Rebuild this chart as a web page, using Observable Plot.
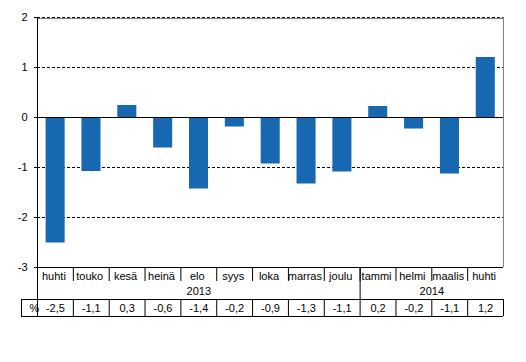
<!DOCTYPE html>
<html>
<head>
<meta charset="utf-8">
<script src="https://cdn.jsdelivr.net/npm/d3@7"></script>
<script src="https://cdn.jsdelivr.net/npm/@observablehq/plot@0.6"></script>
<style>
  html, body { margin: 0; padding: 0; background: #fff; }
  #chart svg { display: block; }
</style>
</head>
<body>
<div id="chart"></div>
<script>
const months = ["huhti","touko","kesä","heinä","elo","syys","loka","marras","joulu","tammi","helmi","maalis","huhti"];
const values = [-2.51,-1.08,0.24,-0.61,-1.43,-0.19,-0.93,-1.33,-1.09,0.22,-0.23,-1.13,1.2];
const valueLabels = ["-2,5","-1,1","0,3","-0,6","-1,4","-0,2","-0,9","-1,3","-1,1","0,2","-0,2","-1,1","1,2"];
const years = ["2013","2014"];
const yearFirst = [0, 9];
const yearLast = [8, 12];
const yTicks = [-3,-2,-1,0,1,2];
const gridTicks = [-2,-1,1,2];
const unitLabel = "%";

const W = 526, H = 362;
const mL = 37, mR = 23, mT = 17, mB = 95;
const bw = (W - mL - mR) / months.length;

const idx = months.map((m, i) => i);
const data = idx.map(i => ({i, month: months[i], value: values[i], label: valueLabels[i]}));
const yMin = d3.min(yTicks), yMax = d3.max(yTicks);
const innerEdges = idx.slice(1);
const allEdges = idx;
const frameH = H - mT - mB;

const chart = Plot.plot({
  width: W,
  height: H,
  marginLeft: mL,
  marginRight: mR,
  marginTop: mT,
  marginBottom: mB,
  style: {fontFamily: "'Liberation Sans', Arial, sans-serif", fontSize: "11px", color: "#000", background: "#fff"},
  x: {type: "band", domain: idx, padding: 0, round: false, axis: null},
  y: {domain: [yMin, yMax], axis: null},
  marks: [
    // dashed gridlines
    Plot.ruleY(gridTicks, {stroke: "#000", strokeDasharray: "3,2", strokeWidth: 1}),
    // gray plot border top & right
    Plot.ruleY([yMax], {stroke: "#808080", dy: 1}),
    Plot.ruleX([idx[idx.length - 1]], {stroke: "#808080", dx: bw / 2}),
    // bars
    Plot.barY(data, {x: "i", y: "value", fill: "#1767b1", insetLeft: 8.6, insetRight: 8.2}),
    // zero line and bottom line
    Plot.ruleY([0], {stroke: "#000"}),
    Plot.ruleY([yMin], {stroke: "#000"}),
    // y axis
    Plot.axisY({ticks: yTicks, tickSize: 3, tickPadding: 7, label: null, tickFormat: d => String(d), stroke: "#000", fill: "#000"}),
    // left axis line extending through table
    Plot.ruleX([idx[0]], {stroke: "#000", dx: -bw / 2, insetBottom: -49}),
    // month separators
    Plot.ruleX(innerEdges, {x: d => d, stroke: "#000", dx: -bw / 2, insetTop: frameH, insetBottom: -14}),
    // year separator
    Plot.ruleX([yearFirst[1]], {stroke: "#000", dx: -bw / 2, insetTop: frameH, insetBottom: -32}),
    // value row verticals
    Plot.ruleX(allEdges, {x: d => d, stroke: "#000", dx: -bw / 2, insetTop: frameH + 32, insetBottom: -49}),
    Plot.ruleX([idx[idx.length - 1]], {stroke: "#000", dx: bw / 2, insetTop: frameH + 32, insetBottom: -49}),
    Plot.ruleX([idx[0]], {stroke: "#000", dx: -bw / 2 - 16, insetTop: frameH + 32, insetBottom: -49}),
    // value row horizontals
    Plot.ruleY([yMin], {stroke: "#000", dy: 32, insetLeft: -16}),
    Plot.ruleY([yMin], {stroke: "#000", dy: 49, insetLeft: -16}),
    // month labels
    Plot.text(data, {x: "i", text: "month", frameAnchor: "bottom", lineAnchor: "middle", dy: 8.5, dx: -1.5, fill: "#000"}),
    // year labels
    Plot.text([years[0]], {x: () => yearFirst[0], text: d => d, frameAnchor: "bottom", lineAnchor: "middle", dy: 23.5, dx: (yearLast[0] - yearFirst[0]) * bw / 2, fill: "#000"}),
    Plot.text([years[1]], {x: () => yearFirst[1], text: d => d, frameAnchor: "bottom", lineAnchor: "middle", dy: 23.5, dx: (yearLast[1] - yearFirst[1]) * bw / 2, fill: "#000"}),
    // value labels
    Plot.text(data, {x: "i", text: "label", frameAnchor: "bottom", lineAnchor: "middle", dy: 41, fill: "#000"}),
    Plot.text([unitLabel], {text: d => d, frameAnchor: "bottom-left", lineAnchor: "middle", dx: -8, dy: 41, fill: "#000"})
  ]
});

document.getElementById("chart").append(chart);
</script>
</body>
</html>
